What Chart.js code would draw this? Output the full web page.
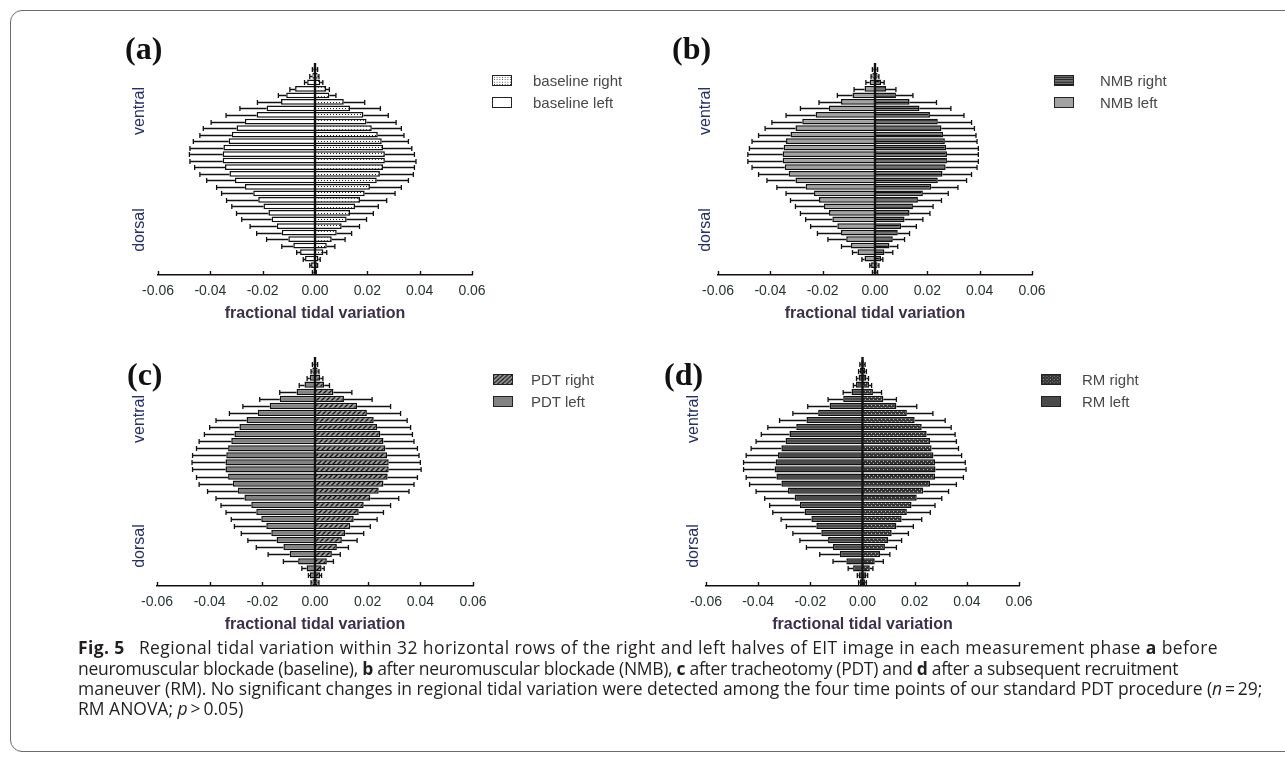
<!DOCTYPE html>
<html>
<head>
<meta charset="utf-8">
<title>Fig. 5 regional tidal variation</title>
<script src="https://cdn.jsdelivr.net/npm/chart.js@4.4.1/dist/chart.umd.min.js"></script>
<style>
  html, body { margin: 0; padding: 0; background: #fff; }
  body { width: 1285px; height: 757px; position: relative; overflow: hidden;
         font-family: 'Liberation Sans', Arial, sans-serif; }
  .frame { position: absolute; left: 10px; top: 10px; width: 1320px; height: 742px;
           border: 1.5px solid #6a6a6a; border-radius: 12px; box-sizing: border-box; }
  .panel { position: absolute; }
  .letter { position: absolute; font-family: 'Liberation Serif', 'Times New Roman', serif;
            font-weight: bold; font-size: 32px; line-height: 1; color: #111; }
  .side { position: absolute; transform: translate(-50%, -50%) rotate(-90deg);
          font-size: 16px; color: #283068; white-space: nowrap; }
  .lg-box { position: absolute; border: 1.3px solid #222; box-sizing: border-box; }
  .lg-text { position: absolute; font-size: 15px; color: #484848; white-space: nowrap;
             transform: translateY(-50%); }
  .cap { position: absolute; left: 78px; font-family: 'Open Sans', 'Noto Sans', sans-serif;
         font-size: 17.5px; color: #231f20; white-space: nowrap; line-height: 20px; }
</style>
</head>
<body>
<div class="frame"></div>

<script>
// row categories, ventral (top) to dorsal (bottom)
const rows = ['1','2','3','4','5','6','7','8','9','10','11','12','13','14','15','16',
              '17','18','19','20','21','22','23','24','25','26','27','28','29','30','31','32'];
const xTicks = [-0.06, -0.04, -0.02, 0, 0.02, 0.04, 0.06];

// (a) baseline
const baseRight   = [0.0005,0.001,0.002,0.0042,0.0055,0.011,0.0134,0.0185,0.0197,0.0217,0.024,0.0255,0.026,0.0267,0.0267,0.026,
                     0.0248,0.0236,0.021,0.019,0.0172,0.0153,0.0134,0.0121,0.0102,0.0083,0.0064,0.0045,0.0032,0.0013,0.0008,0.0004];
const baseRightSd = [0.0005,0.0005,0.001,0.0013,0.0025,0.008,0.0116,0.0095,0.0113,0.0113,0.010,0.0102,0.011,0.0113,0.0119,0.012,
                     0.0128,0.0121,0.012,0.0116,0.0102,0.0089,0.0089,0.0076,0.0068,0.0057,0.0051,0.0031,0.0013,0.0007,0.0002,0.0001];
const baseLeft    = [-0.0005,-0.001,-0.003,-0.0076,-0.011,-0.013,-0.0185,-0.0223,-0.0268,-0.030,-0.0318,-0.033,-0.035,-0.0353,-0.0353,-0.0344,
                     -0.0327,-0.0306,-0.0268,-0.0236,-0.0217,-0.0197,-0.0178,-0.0166,-0.0146,-0.0127,-0.0102,-0.0083,-0.0057,-0.0038,-0.0015,-0.0005];
const baseLeftSd  = [0.0005,0.001,0.001,0.002,0.003,0.009,0.0102,0.0117,0.0129,0.0127,0.0122,0.0135,0.0128,0.0127,0.0125,0.0116,
                     0.0113,0.0108,0.0108,0.0121,0.0121,0.0121,0.0122,0.0114,0.0102,0.0096,0.0083,0.0044,0.0013,0.0007,0.0005,0.0005];

// (b) NMB
const nmbRight   = [0.0005,0.001,0.0023,0.0042,0.008,0.0132,0.017,0.021,0.024,0.0254,0.026,0.0267,0.0272,0.0275,0.0275,0.027,
                    0.0258,0.024,0.0215,0.0183,0.0164,0.0145,0.0132,0.0113,0.010,0.0087,0.0068,0.0055,0.0036,0.0023,0.001,0.0005];
const nmbRightSd = [0.0005,0.0005,0.0012,0.0038,0.0065,0.0103,0.012,0.013,0.0129,0.0126,0.0126,0.0123,0.0123,0.012,0.012,0.012,
                    0.0111,0.011,0.0102,0.0097,0.009,0.0077,0.0078,0.007,0.0058,0.0045,0.0045,0.0032,0.0032,0.0007,0.0005,0.0005];
const nmbLeft    = [-0.0005,-0.001,-0.002,-0.004,-0.0086,-0.013,-0.0176,-0.0227,-0.0278,-0.0304,-0.0323,-0.034,-0.0349,-0.0353,-0.0353,-0.0345,
                    -0.033,-0.0304,-0.0265,-0.0233,-0.0214,-0.0195,-0.0176,-0.0163,-0.0144,-0.013,-0.011,-0.0092,-0.0067,-0.004,-0.0015,-0.0005];
const nmbLeftSd  = [0.0005,0.0005,0.0015,0.004,0.0058,0.0084,0.0109,0.0113,0.0116,0.0116,0.0122,0.013,0.0131,0.0133,0.0133,0.0125,
                    0.0115,0.0109,0.011,0.0107,0.0109,0.0109,0.0109,0.0102,0.0102,0.009,0.007,0.0036,0.0019,0.001,0.0005,0.0005];

// (c) PDT
const pdtRight   = [0.0005,0.001,0.002,0.0035,0.007,0.011,0.016,0.0197,0.0223,0.0236,0.0248,0.026,0.0267,0.0274,0.028,0.028,
                    0.0276,0.026,0.0242,0.021,0.0185,0.0166,0.0147,0.0134,0.0115,0.0102,0.0083,0.0064,0.0045,0.0025,0.0019,0.001];
const pdtRightSd = [0.0005,0.0005,0.001,0.002,0.007,0.0107,0.0127,0.0128,0.0127,0.0127,0.0122,0.0116,0.0122,0.0121,0.012,0.0123,
                    0.0113,0.0116,0.0115,0.0108,0.0102,0.0094,0.0089,0.0076,0.007,0.0058,0.0044,0.0032,0.0025,0.001,0.0006,0.0005];
const pdtLeft    = [-0.0005,-0.001,-0.002,-0.004,-0.007,-0.0134,-0.0172,-0.0217,-0.026,-0.0287,-0.0306,-0.0318,-0.033,-0.0337,-0.034,-0.034,
                    -0.033,-0.0312,-0.0293,-0.0268,-0.0242,-0.0223,-0.0204,-0.0185,-0.0166,-0.0146,-0.012,-0.0096,-0.0064,-0.0032,-0.0019,-0.001];
const pdtLeftSd  = [0.0005,0.0005,0.001,0.002,0.0064,0.0076,0.0102,0.0108,0.0116,0.0113,0.0114,0.0122,0.012,0.0128,0.0127,0.0125,
                    0.012,0.0128,0.0115,0.0108,0.0115,0.0115,0.0114,0.0121,0.0114,0.0109,0.0103,0.0082,0.0056,0.0018,0.0006,0.0005];

// (d) RM
const rmRight   = [0.0005,0.001,0.0015,0.0025,0.004,0.008,0.013,0.017,0.020,0.0227,0.0246,0.0259,0.0265,0.0272,0.0278,0.028,
                   0.0278,0.0259,0.0233,0.0208,0.0188,0.017,0.015,0.013,0.0112,0.0099,0.0086,0.0067,0.0047,0.0028,0.0015,0.001];
const rmRightSd = [0.0005,0.0005,0.0008,0.001,0.0033,0.005,0.0078,0.010,0.0117,0.0113,0.0109,0.0101,0.0103,0.0108,0.0116,0.0117,
                   0.0109,0.0101,0.0097,0.0096,0.009,0.009,0.0077,0.0065,0.0064,0.0051,0.0044,0.0038,0.0033,0.0012,0.0005,0.0005];
const rmLeft    = [-0.0005,-0.001,-0.0015,-0.0025,-0.0042,-0.0074,-0.0126,-0.017,-0.0215,-0.0254,-0.028,-0.0295,-0.0311,-0.0324,-0.0333,-0.0337,
                   -0.033,-0.0311,-0.0286,-0.026,-0.024,-0.0222,-0.0196,-0.0177,-0.0158,-0.0132,-0.0113,-0.0087,-0.0062,-0.0036,-0.0015,-0.001];
const rmLeftSd  = [0.0005,0.0005,0.0008,0.001,0.0032,0.0058,0.0084,0.0097,0.0103,0.0109,0.0108,0.0113,0.0116,0.0122,0.0123,0.0119,
                   0.0116,0.0122,0.0122,0.0115,0.0116,0.0122,0.0116,0.0115,0.0109,0.0108,0.0102,0.0077,0.0051,0.0019,0.0005,0.0005];

// fill patterns for the "right" series
function makePattern(w, h, paint) {
    const c = document.createElement('canvas');
    c.width = w; c.height = h;
    const g = c.getContext('2d');
    paint(g, w, h);
    return g.createPattern(c, 'repeat');
}

const dotFill = makePattern(3, 3, (g) => {
    g.fillStyle = '#fff'; g.fillRect(0, 0, 3, 3);
    g.fillStyle = '#222'; g.fillRect(1, 1, 1, 1);
});
const stripeFill = makePattern(4, 3, (g) => {
    g.fillStyle = '#707070'; g.fillRect(0, 0, 4, 3);
    g.fillStyle = '#111'; g.fillRect(0, 1, 4, 1);
});
const hatchFill = makePattern(5, 5, (g) => {
    g.fillStyle = '#9a9a9a'; g.fillRect(0, 0, 5, 5);
    g.strokeStyle = '#111'; g.lineWidth = 1.3;
    g.beginPath(); g.moveTo(0, 5); g.lineTo(5, 0); g.moveTo(-1, 1); g.lineTo(1, -1); g.moveTo(4, 6); g.lineTo(6, 4); g.stroke();
});
const crossFill = makePattern(4, 4, (g) => {
    g.fillStyle = '#333'; g.fillRect(0, 0, 4, 4);
    g.fillStyle = '#b8b8b8'; g.fillRect(1, 1, 1, 1); g.fillRect(3, 3, 1, 1);
});

const panels = [
    { id: 'a', right: baseRight, rightSd: baseRightSd, left: baseLeft, leftSd: baseLeftSd,
      rightFill: dotFill, leftFill: '#ffffff', names: ['baseline right', 'baseline left'],
      plot: [158, 66, 472, 275], letter: [125, 32], side: [139, 111, 230], legend: [492, 533, 80, 102] },
    { id: 'b', right: nmbRight, rightSd: nmbRightSd, left: nmbLeft, leftSd: nmbLeftSd,
      rightFill: stripeFill, leftFill: '#a2a2a2', names: ['NMB right', 'NMB left'],
      plot: [718, 66, 1032, 275], letter: [672, 32], side: [705, 111, 230], legend: [1054, 1100, 80, 102] },
    { id: 'c', right: pdtRight, rightSd: pdtRightSd, left: pdtLeft, leftSd: pdtLeftSd,
      rightFill: hatchFill, leftFill: '#828282', names: ['PDT right', 'PDT left'],
      plot: [157, 360, 473, 586], letter: [127, 358], side: [139, 419, 546], legend: [493, 531, 379, 401] },
    { id: 'd', right: rmRight, rightSd: rmRightSd, left: rmLeft, leftSd: rmLeftSd,
      rightFill: crossFill, leftFill: '#4a4a4a', names: ['RM right', 'RM left'],
      plot: [706, 360, 1019, 586], letter: [664, 358], side: [693, 419, 546], legend: [1041, 1082, 379, 401] }
];

// one-sided SD whiskers, zero line and inward x ticks
const errorBars = {
    id: 'errorBars',
    afterDatasetsDraw(chart) {
        const { ctx, chartArea, scales: { x } } = chart;
        ctx.save();
        ctx.strokeStyle = '#111';
        ctx.lineWidth = 1.3;
        chart.data.datasets.forEach((ds, i) => {
            const meta = chart.getDatasetMeta(i);
            meta.data.forEach((bar, j) => {
                const v = ds.data[j];
                const end = x.getPixelForValue(v + Math.sign(v) * ds.sd[j]);
                const y = Math.round(bar.y) + 0.5;
                ctx.beginPath();
                ctx.moveTo(bar.x, y); ctx.lineTo(end, y);
                ctx.moveTo(end, y - 2.5); ctx.lineTo(end, y + 2.5);
                ctx.stroke();
            });
        });
        const x0 = x.getPixelForValue(0);
        ctx.lineWidth = 2.4;
        ctx.beginPath();
        ctx.moveTo(x0, chartArea.top - 3); ctx.lineTo(x0, chartArea.bottom);
        ctx.stroke();
        ctx.lineWidth = 1.4;
        ctx.beginPath();
        x.ticks.forEach(t => {
            const px = Math.round(x.getPixelForValue(t.value)) + 0.5;
            ctx.moveTo(px, chartArea.bottom); ctx.lineTo(px, chartArea.bottom - 4);
        });
        ctx.stroke();
        ctx.restore();
    }
};

function addDiv(cls, css, html) {
    const d = document.createElement('div');
    d.className = cls;
    Object.assign(d.style, css);
    if (html !== undefined) d.innerHTML = html;
    document.body.appendChild(d);
    return d;
}

panels.forEach(p => {
    const [pl, pt, pr, pb] = p.plot;
    const padX = 30, padTop = 10, axisH = 48, padBottom = 4;
    const box = addDiv('panel', {
        left: (pl - padX) + 'px', top: (pt - padTop) + 'px',
        width: (pr - pl + 2 * padX) + 'px', height: (pb - pt + padTop + axisH + padBottom) + 'px'
    });
    const canvas = document.createElement('canvas');
    box.appendChild(canvas);

    new Chart(canvas, {
        type: 'bar',
        data: {
            labels: rows,
            datasets: [
                { label: p.names[0], data: p.right, sd: p.rightSd, backgroundColor: p.rightFill },
                { label: p.names[1], data: p.left, sd: p.leftSd, backgroundColor: p.leftFill }
            ]
        },
        options: {
            indexAxis: 'y',
            responsive: true,
            maintainAspectRatio: false,
            animation: false,
            layout: { padding: { left: padX, right: padX, top: padTop, bottom: padBottom } },
            datasets: {
                bar: { borderColor: '#111', borderWidth: 1.5, barPercentage: 0.88, categoryPercentage: 1 }
            },
            plugins: { legend: { display: false }, tooltip: { enabled: false } },
            scales: {
                x: {
                    type: 'linear', min: -0.06, max: 0.06, stacked: true,
                    afterBuildTicks: axis => { axis.ticks = xTicks.map(v => ({ value: v })); },
                    afterFit: axis => { axis.height = axisH; },
                    grid: { display: true, drawOnChartArea: false, drawTicks: false },
                    border: { display: true, color: '#111', width: 1.6 },
                    ticks: {
                        padding: 8, color: '#263434',
                        font: { family: 'Liberation Sans', size: 14 },
                        callback: v => (Math.abs(v) < 1e-9 ? 0 : v).toFixed(2)
                    },
                    title: {
                        display: true, text: 'fractional tidal variation', color: '#3b2f4a', padding: 0,
                        font: { family: 'Liberation Sans', size: 16, weight: 'bold' }
                    }
                },
                y: { type: 'category', stacked: true, display: false }
            }
        },
        plugins: [errorBars]
    });

    addDiv('letter', { left: p.letter[0] + 'px', top: p.letter[1] + 'px' }, '(' + p.id + ')');
    addDiv('side', { left: p.side[0] + 'px', top: p.side[1] + 'px' }, 'ventral');
    addDiv('side', { left: p.side[0] + 'px', top: p.side[2] + 'px' }, 'dorsal');

    const [boxX, textX, y1, y2] = p.legend;
    [[p.rightFill, p.names[0], y1], [p.leftFill, p.names[1], y2]].forEach(([fill, name, cy]) => {
        const sw = document.createElement('canvas');
        sw.width = 20; sw.height = 11;
        sw.className = 'lg-box';
        Object.assign(sw.style, { left: boxX + 'px', top: (cy - 5.5) + 'px', width: '20px', height: '11px' });
        const g = sw.getContext('2d');
        g.fillStyle = fill; g.fillRect(0, 0, 20, 11);
        document.body.appendChild(sw);
        addDiv('lg-text', { left: textX + 'px', top: cy + 'px' }, name);
    });
});

const captionLines = [
    '<b>Fig. 5</b>&ensp; Regional tidal variation within 32 horizontal rows of the right and left halves of EIT image in each measurement phase <b>a</b> before',
    'neuromuscular blockade (baseline), <b>b</b> after neuromuscular blockade (NMB), <b>c</b> after tracheotomy (PDT) and <b>d</b> after a subsequent recruitment',
    'maneuver (RM). No significant changes in regional tidal variation were detected among the four time points of our standard PDT procedure (<i>n</i>&#8201;=&#8201;29;',
    'RM ANOVA; <i>p</i>&#8201;&gt;&#8201;0.05)'
];
const captionY = [647, 667.5, 688, 707.5];
const captionSpacing = ['0.4px', '-0.3px', '-0.05px', '0px'];
captionLines.forEach((t, i) => addDiv('cap', { top: (captionY[i] - 10) + 'px', letterSpacing: captionSpacing[i] }, t));
</script>
</body>
</html>
